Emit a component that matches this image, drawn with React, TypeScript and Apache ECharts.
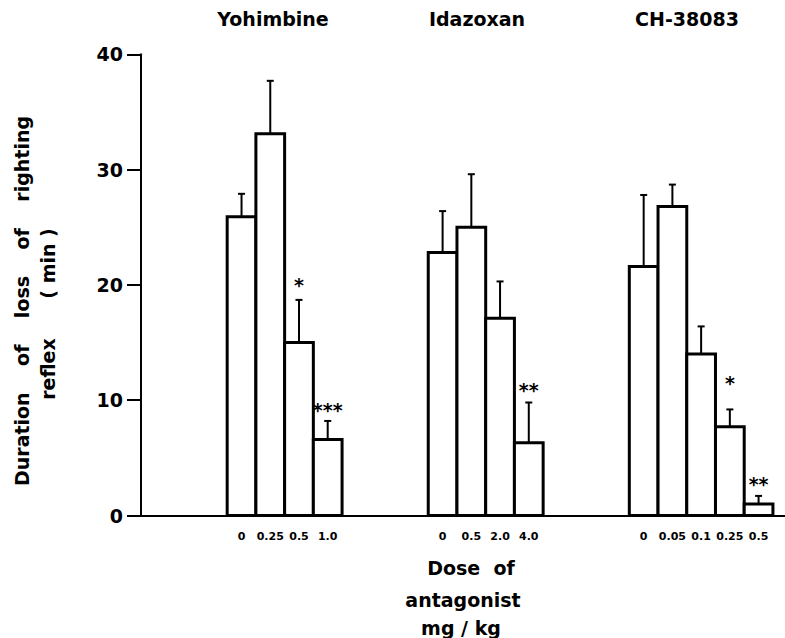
import { useEffect, useRef } from "react";
import * as echarts from "echarts";

// ---- data ----
const groupNames = ["Yohimbine", "Idazoxan", "CH-38083"];

const yohDoses = ["0", "0.25", "0.5", "1.0"];
const yohMeans = [25.9, 33.1, 15.0, 6.6];
const yohSem = [2.0, 4.6, 3.7, 1.6];
const yohSig = ["", "", "*", "***"];
const yohSigLevel = [0, 0, 20.4, 9.6];

const idaDoses = ["0", "0.5", "2.0", "4.0"];
const idaMeans = [22.8, 25.0, 17.1, 6.3];
const idaSem = [3.6, 4.6, 3.2, 3.5];
const idaSig = ["", "", "", "**"];
const idaSigLevel = [0, 0, 0, 11.3];

const chDoses = ["0", "0.05", "0.1", "0.25", "0.5"];
const chMeans = [21.6, 26.8, 14.0, 7.7, 1.0];
const chSem = [6.2, 1.9, 2.4, 1.5, 0.7];
const chSig = ["", "", "", "*", "**"];
const chSigLevel = [0, 0, 0, 11.9, 3.2];

const yTickValues = [0, 10, 20, 30, 40];

// layout: first-bar slot of each group on the x value axis
const groupStart = [3, 10, 17];

type Bar = { x: number; mean: number; sem: number; dose: string; sig: string; sigLevel: number };

const groupsData = [
  { doses: yohDoses, means: yohMeans, sem: yohSem, sig: yohSig, lvl: yohSigLevel },
  { doses: idaDoses, means: idaMeans, sem: idaSem, sig: idaSig, lvl: idaSigLevel },
  { doses: chDoses, means: chMeans, sem: chSem, sig: chSig, lvl: chSigLevel },
];

const bars: Bar[] = [];
groupsData.forEach((g, gi) => {
  g.means.forEach((m, i) => {
    bars.push({ x: groupStart[gi] + i, mean: m, sem: g.sem[i], dose: g.doses[i], sig: g.sig[i], sigLevel: g.lvl[i] });
  });
});

const FONT = '"DejaVu Sans", "Liberation Sans", Arial, sans-serif';

export default function App() {
  const ref = useRef<HTMLDivElement>(null);
  useEffect(() => {
    if (!ref.current) return;
    const chart = echarts.init(ref.current, undefined, { renderer: "svg" });
    const option: any = {
      animation: false,
      backgroundColor: "#fff",
      grid: { left: 141, right: 0, top: 54.3, bottom: 122.5, containLabel: false },
      xAxis: {
        type: "value",
        min: -0.5,
        max: 21.92,
        axisLine: { show: true, onZero: false, lineStyle: { color: "#000", width: 2 } },
        axisTick: { show: false },
        axisLabel: { show: false },
        splitLine: { show: false },
      },
      yAxis: {
        type: "value",
        min: yTickValues[0],
        max: yTickValues[yTickValues.length - 1],
        interval: 10,
        axisLine: { show: true, onZero: false, lineStyle: { color: "#000", width: 2 } },
        axisTick: { show: true, inside: false, length: 14, lineStyle: { color: "#000", width: 2 } },
        axisLabel: { show: true, margin: 18, color: "#000", fontFamily: FONT, fontWeight: "bold", fontSize: 19 },
        splitLine: { show: false },
      },
      series: [
        {
          type: "custom",
          data: bars.map((b) => [b.x, b.mean, b.sem, b.sigLevel]),
          renderItem: (params: any, api: any) => {
            const b = bars[params.dataIndex];
            const tl = api.coord([b.x - 0.5, b.mean]);
            const br = api.coord([b.x + 0.5, 0]);
            const top = api.coord([b.x, b.mean + b.sem]);
            const cx = (tl[0] + br[0]) / 2;
            const children: any[] = [
              {
                type: "line",
                shape: { x1: cx, y1: tl[1], x2: cx, y2: top[1] },
                style: { stroke: "#000", lineWidth: 2 },
              },
              {
                type: "line",
                shape: { x1: cx - 3.5, y1: top[1], x2: cx + 3.5, y2: top[1] },
                style: { stroke: "#000", lineWidth: 2 },
              },
              {
                type: "rect",
                shape: { x: tl[0], y: tl[1], width: br[0] - tl[0], height: br[1] - tl[1] },
                style: { fill: "#fff", stroke: "#000", lineWidth: 3 },
              },
              {
                type: "text",
                x: cx,
                y: br[1] + 21,
                style: {
                  text: b.dose,
                  fill: "#000",
                  fontFamily: FONT,
                  fontWeight: "bold",
                  fontSize: 11,
                  align: "center",
                  verticalAlign: "middle",
                },
              },
            ];
            if (b.sig) {
              const sp = api.coord([b.x, b.sigLevel]);
              children.push({
                type: "text",
                x: cx,
                y: sp[1] + 5,
                style: {
                  text: b.sig,
                  fill: "#000",
                  fontFamily: FONT,
                  fontWeight: "bold",
                  fontSize: 19,
                  align: "center",
                  verticalAlign: "middle",
                },
              });
            }
            return { type: "group", children };
          },
          z: 1,
        },
      ],
      graphic: [
        ...[
          { t: groupNames[0], x: 273 },
          { t: groupNames[1], x: 477 },
          { t: groupNames[2], x: 687 },
        ].map((g) => ({
          type: "text",
          x: g.x,
          y: 19,
          style: { text: g.t, fill: "#000", fontFamily: FONT, fontWeight: "bold", fontSize: 19, align: "center", verticalAlign: "middle" },
        })),
        {
          type: "text",
          x: 22,
          y: 301,
          rotation: Math.PI / 2,
          style: {
            text: "Duration    of    loss    of    righting",
            fill: "#000",
            fontFamily: FONT,
            fontWeight: "bold",
            fontSize: 19,
            align: "center",
            verticalAlign: "middle",
          },
        },
        {
          type: "text",
          x: 48,
          y: 314,
          rotation: Math.PI / 2,
          style: {
            text: "reflex      ( min )",
            fill: "#000",
            fontFamily: FONT,
            fontWeight: "bold",
            fontSize: 19,
            align: "center",
            verticalAlign: "middle",
          },
        },
        ...[
          { t: "Dose  of", x: 471, y: 568 },
          { t: "antagonist", x: 463, y: 600 },
          { t: "mg / kg", x: 461, y: 628 },
        ].map((g) => ({
          type: "text",
          x: g.x,
          y: g.y,
          style: { text: g.t, fill: "#000", fontFamily: FONT, fontWeight: "bold", fontSize: 19, align: "center", verticalAlign: "middle" },
        })),
      ],
    };
    chart.setOption(option);
    return () => chart.dispose();
  }, []);
  return <div ref={ref} style={{ position: "fixed", left: 0, top: 0, width: 785, height: 638 }} />;
}
